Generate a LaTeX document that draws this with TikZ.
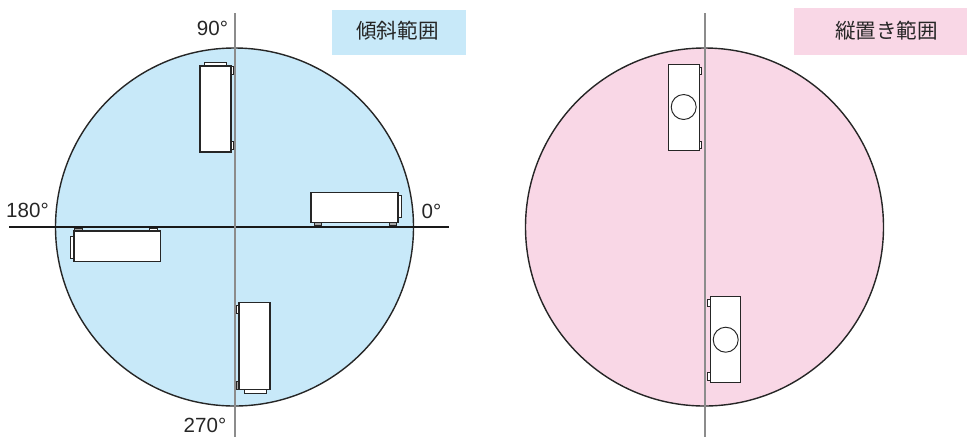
\documentclass[tikz,border=0pt]{standalone}
\usepackage{fontspec}
\setmainfont{Liberation Sans}
\newfontfamily\jpfont{Noto Sans CJK JP}
\definecolor{tiltblue}{HTML}{C8E9F9}
\definecolor{uprightpink}{HTML}{F9D7E6}
\definecolor{axisgray}{gray}{0.55}
\definecolor{inkgray}{gray}{0.15}

\begin{document}
\begin{tikzpicture}[x=0.02cm,y=-0.02cm]
	\tikzset{disc/.style={draw=black!85,line width=0.8pt}};
	\tikzset{body/.style={draw=inkgray,fill=white,line width=0.9pt}};
	\tikzset{thinbody/.style={draw=inkgray,fill=white,line width=0.55pt}};
	\tikzset{part/.style={draw=inkgray,fill=white,line width=0.5pt}};
	\tikzset{foot/.style={draw=inkgray,fill=black!35,line width=0.5pt}};
	\tikzset{angle/.style={text=inkgray,font=\fontsize{11.7pt}{13pt}\selectfont,inner sep=0pt}};
	\tikzset{tag/.style={text=inkgray,font=\jpfont\fontsize{11.7pt}{13pt}\selectfont,inner sep=0pt,anchor=center}};
	
	\useasboundingbox (0,0) rectangle (967,437);
	
	% discs
	\fill [tiltblue] (234.5,227) circle [radius=179];
	\draw [disc] (234.5,227) circle [radius=179];
	\fill [uprightpink] (704.5,227) circle [radius=179];
	\draw [disc] (704.5,227) circle [radius=179];
	
	% tags
	\fill [tiltblue] (332,10) rectangle (466,55);
	\node (tilttag) at (397.5,31) [tag]{傾斜範囲};
	\fill [uprightpink] (794,8) rectangle (967,55);
	\node (uprighttag) at (886.5,31) [tag]{縦置き範囲};
	
	% axes
	\draw [black!90,line width=1pt] (9,227)--(449,227);
	\foreach \x in {235,705}
	\draw [axisgray,line width=1.2pt] (\x,13)--(\x,437);
	
	\node (a90) at (212.5,28.5) [angle]{90°};
	\node (a0) at (431.5,211.5) [angle]{0°};
	\node (a180) at (27.5,210.5) [angle]{180°};
	\node (a270) at (205,425.5) [angle]{270°};
	
	% top projector
	\draw [part] (204,62) rectangle (226,66);
	\foreach \y in {66.7,141}
	\draw [part] (231,\y) rectangle (233.3,\y+8);
	\draw [body] (200,66) rectangle (231,152);
	
	% right projector
	\draw [part] (398,195.7) rectangle (401.8,217.5);
	\foreach \x in {314,389}
	\draw [foot] (\x,222.3) rectangle (\x+7.5,225.8);
	\draw [body] (311,192.7) rectangle (398,222.3);
	
	% left projector
	\draw [part] (70,236.7) rectangle (74,258);
	\draw [foot] (74.5,228.5) rectangle (82.5,231);
	\draw [part] (149.5,228.5) rectangle (157.5,231);
	\draw [body] (74,231) rectangle (160.5,261.7);
	
	% bottom projector
	\draw [part] (244.8,389.3) rectangle (266.8,393);
	\draw [part] (236.8,305) rectangle (239,313.5);
	\draw [foot] (236.8,381) rectangle (239,389);
	\draw [body] (239,302.7) rectangle (270,389.3);
	
	% upright projectors
	\foreach \y in {67.5,141}
	\draw [part] (699,\y) rectangle (701.7,\y+7);
	\draw [thinbody] (668.3,64) rectangle (699,150.3);
	\draw [thinbody] (683.7,107) circle [radius=12.5];
	\foreach \y in {299,372.5}
	\draw [part] (707.5,\y) rectangle (710.3,\y+7.5);
	\draw [thinbody] (710.3,296.7) rectangle (740.7,382.7);
	\draw [thinbody] (725.7,339.7) circle [radius=12.5];
\end{tikzpicture}
\end{document}
